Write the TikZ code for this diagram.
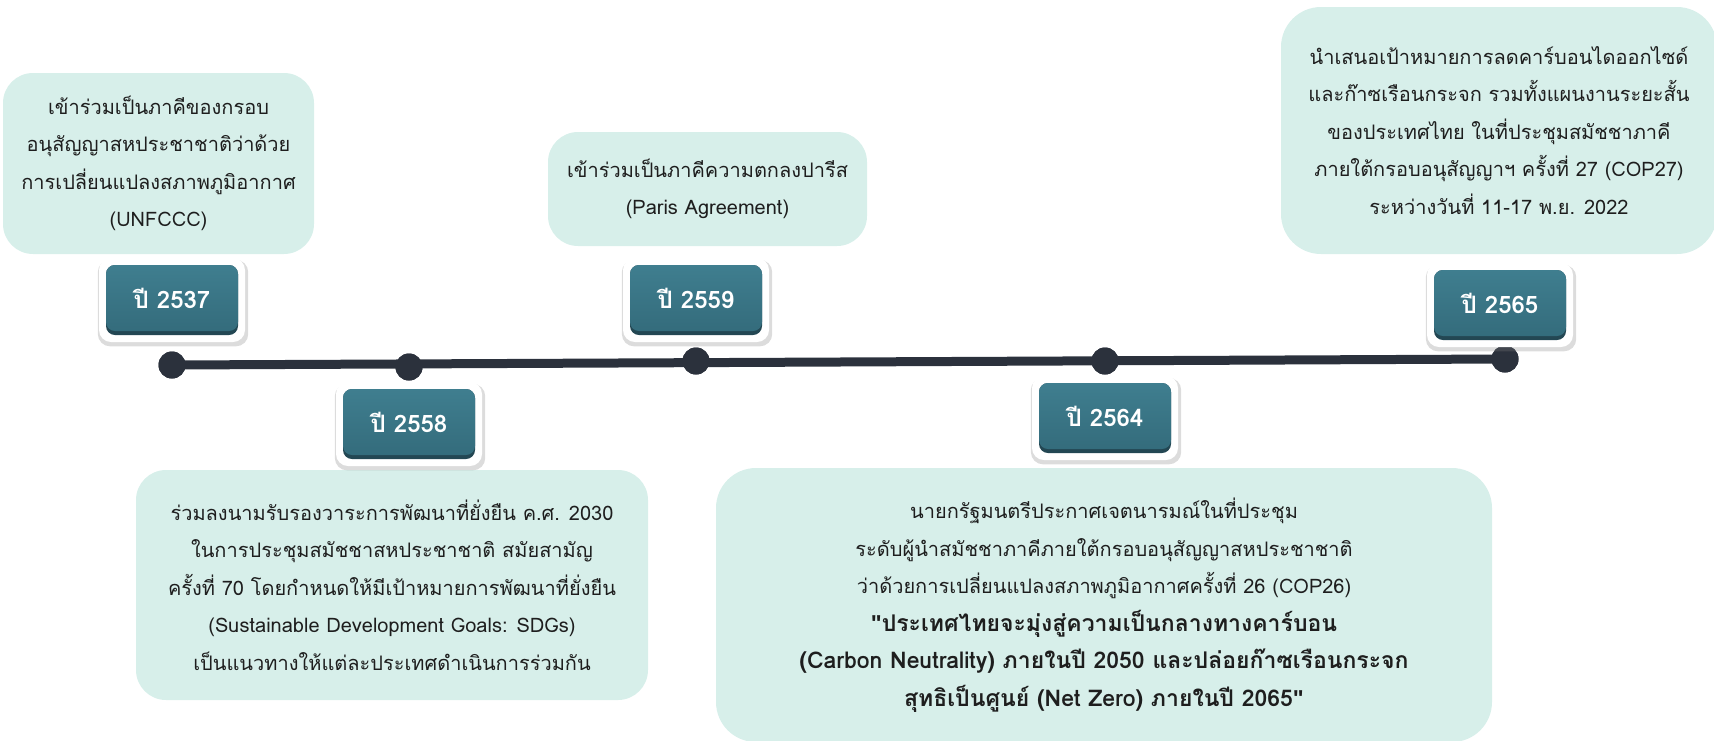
\documentclass[tikz,border=0pt]{standalone}
\usepackage{fontspec}
\setmainfont[Script=Thai]{Loma}
\newfontfamily\qfont{Liberation Sans}
\usetikzlibrary{shadows}
\definecolor{mint}{HTML}{D7EFEA}
\definecolor{tealtop}{HTML}{3F7E8F}
\definecolor{tealbot}{HTML}{346C7C}
\definecolor{tealedge}{HTML}{234753}
\definecolor{lineclr}{HTML}{2B313C}
\definecolor{txt}{HTML}{1E1E1E}
\tikzset{
  infobox/.style={fill=mint, rounded corners=30pt, align=center, text=txt,
    font=\fontsize{20}{37.5}\selectfont, inner sep=0pt},
  yearouter/.style={fill=white, rounded corners=12pt, minimum width=146pt, minimum height=84pt,
    drop shadow={opacity=0.28, shadow xshift=1pt, shadow yshift=-3pt, shadow scale=1.03}},
  yearedge/.style={fill=tealedge, rounded corners=9pt, minimum width=132pt, minimum height=70pt},
  yearinner/.style={top color=tealtop, bottom color=tealbot, rounded corners=9pt,
    minimum width=132pt, minimum height=66pt, text=white,
    font=\fontsize{24}{28}\selectfont\bfseries},
  dot/.style={circle, fill=lineclr, minimum size=27pt, inner sep=0pt},
}
\newcommand{\dq}{{\qfont\bfseries "}}
\begin{document}
\begin{tikzpicture}[x=1pt,y=-1pt]
\useasboundingbox (0,0) rectangle (1714,740);
% info boxes
\node[infobox, minimum width=311pt, minimum height=181pt] (b1) at (158.5,163.5)
  {เข้าร่วมเป็นภาคีของกรอบ\\อนุสัญญาสหประชาชาติว่าด้วย\\การเปลี่ยนแปลงสภาพภูมิอากาศ\\(UNFCCC)};
\node[infobox, minimum width=319pt, minimum height=114pt] (b3) at (707.5,189)
  {เข้าร่วมเป็นภาคีความตกลงปารีส\\(Paris Agreement)};
\node[infobox, rounded corners=40pt, minimum width=436pt, minimum height=247pt] (b5) at (1499,130.5)
  {นำเสนอเป้าหมายการลดคาร์บอนไดออกไซด์\\และก๊าซเรือนกระจก รวมทั้งแผนงานระยะสั้น\\ของประเทศไทย ในที่ประชุมสมัชชาภาคี\\ภายใต้กรอบอนุสัญญาฯ ครั้งที่ 27 (COP27)\\ระหว่างวันที่ 11-17 พ.ย. 2022};
\node[infobox, minimum width=512pt, minimum height=230pt] (b2) at (392,585)
  {ร่วมลงนามรับรองวาระการพัฒนาที่ยั่งยืน ค.ศ. 2030\\ในการประชุมสมัชชาสหประชาชาติ สมัยสามัญ\\ครั้งที่ 70 โดยกำหนดให้มีเป้าหมายการพัฒนาที่ยั่งยืน\\(Sustainable Development Goals: SDGs)\\เป็นแนวทางให้แต่ละประเทศดำเนินการร่วมกัน};
\node[infobox, rounded corners=40pt, minimum width=776pt, minimum height=274pt] (b4) at (1104,605)
  {นายกรัฐมนตรีประกาศเจตนารมณ์ในที่ประชุม\\ระดับผู้นำสมัชชาภาคีภายใต้กรอบอนุสัญญาสหประชาชาติ\\ว่าด้วยการเปลี่ยนแปลงสภาพภูมิอากาศครั้งที่ 26 (COP26)\\
  {\fontsize{23}{43}\selectfont\bfseries \dq ประเทศไทยจะมุ่งสู่ความเป็นกลางทางคาร์บอน}\\
  {\fontsize{23}{43}\selectfont\bfseries (Carbon Neutrality) ภายในปี 2050 และปล่อยก๊าซเรือนกระจก}\\
  {\fontsize{23}{43}\selectfont\bfseries สุทธิเป็นศูนย์ (Net Zero) ภายในปี 2065\dq}};
% timeline
\node[dot] (d1) at (172,365) {};
\node[dot] (d2) at (409,367) {};
\node[dot] (d3) at (696,361) {};
\node[dot] (d4) at (1105,361) {};
\node[dot] (d5) at (1505,359) {};
\draw[lineclr, line width=9pt] (d1.center) -- (d5.center);
\foreach \d in {d1,d2,d3,d4,d5} \fill[lineclr] (\d) circle (13.5pt);
% year boxes
\foreach \n/\x/\y/\t in {y1/172/300/2537, y2/409/424/2558, y3/696/300/2559, y4/1105/418/2564, y5/1500/305/2565}{
  \node[yearouter] (\n o) at (\x,\y) {};
  \node[yearedge] (\n e) at (\x,\y) {};
  \node[yearinner, yshift=2pt] (\n) at (\x,\y) {ปี \t};
}
\end{tikzpicture}
\end{document}
